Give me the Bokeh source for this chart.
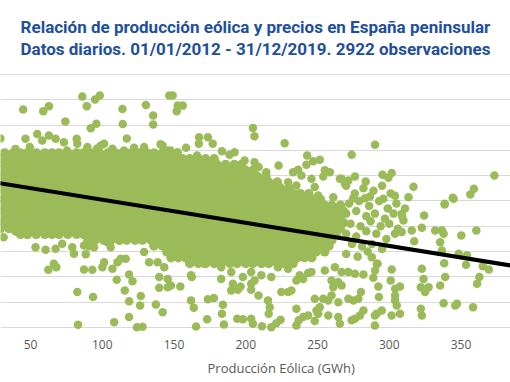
from bokeh.plotting import figure
from bokeh.models import Range1d, FixedTicker, Title
from bokeh.embed import file_html
from bokeh.resources import INLINE

title_1 = "Relación de producción eólica y precios en España peninsular"
title_2 = "Datos diarios. 01/01/2012 - 31/12/2019. 2922 observaciones"
x_title = "Producción Eólica (GWh)"
x_ticks = [50, 100, 150, 200, 250, 300, 350]
y_grid = [0, 10, 20, 30, 40, 50, 60, 70, 80, 90, 100]

# dense core of the cloud, one list of wind values (GWh) per price level (EUR/MWh)
row_69_0 = [32, 38, 43, 48, 54, 60, 65, 70, 76, 82, 87, 92, 98, 104, 109, 114, 120, 126, 131, 136, 142, 148]
row_66_7 = [29, 35, 40, 46, 51, 57, 62, 68, 73, 79, 84, 90, 95, 101, 106, 112, 117, 123, 128, 134, 139, 145, 150, 156, 161, 167, 172, 178]
row_64_4 = [32, 38, 43, 48, 54, 60, 65, 70, 76, 82, 87, 92, 98, 104, 109, 114, 120, 126, 131, 136, 142, 148, 153, 158, 164, 170, 175, 180, 186, 192, 197]
row_62_1 = [29, 35, 40, 46, 51, 57, 62, 68, 73, 79, 84, 90, 95, 101, 106, 112, 117, 123, 128, 134, 139, 145, 150, 156, 161, 167, 172, 178, 183, 189, 194, 200, 205]
row_59_8 = [32, 38, 43, 48, 54, 60, 65, 70, 76, 82, 87, 92, 98, 104, 109, 114, 120, 126, 131, 136, 142, 148, 153, 158, 164, 170, 175, 180, 186, 192, 197, 202, 208, 214]
row_57_5 = [29, 35, 40, 46, 51, 57, 62, 68, 73, 79, 84, 90, 95, 101, 106, 112, 117, 123, 128, 134, 139, 145, 150, 156, 161, 167, 172, 178, 183, 189, 194, 200, 205, 211, 216, 222]
row_55_2 = [32, 38, 43, 48, 54, 60, 65, 70, 76, 82, 87, 92, 98, 104, 109, 114, 120, 126, 131, 136, 142, 148, 153, 158, 164, 170, 175, 180, 186, 192, 197, 202, 208, 214, 219, 224, 230]
row_52_9 = [29, 35, 40, 46, 51, 57, 62, 68, 73, 79, 84, 90, 95, 101, 106, 112, 117, 123, 128, 134, 139, 145, 150, 156, 161, 167, 172, 178, 183, 189, 194, 200, 205, 211, 216, 222, 227, 233, 238, 244]
row_50_6 = [32, 38, 43, 48, 54, 60, 65, 70, 76, 82, 87, 92, 98, 104, 109, 114, 120, 126, 131, 136, 142, 148, 153, 158, 164, 170, 175, 180, 186, 192, 197, 202, 208, 214, 219, 224, 230, 236, 241, 246, 252]
row_48_3 = [29, 35, 40, 46, 51, 57, 62, 68, 73, 79, 84, 90, 95, 101, 106, 112, 117, 123, 128, 134, 139, 145, 150, 156, 161, 167, 172, 178, 183, 189, 194, 200, 205, 211, 216, 222, 227, 233, 238, 244, 249, 255, 260, 266]
row_46_0 = [32, 38, 43, 48, 54, 60, 65, 70, 76, 82, 87, 92, 98, 104, 109, 114, 120, 126, 131, 136, 142, 148, 153, 158, 164, 170, 175, 180, 186, 192, 197, 202, 208, 214, 219, 224, 230, 236, 241, 246, 252, 258, 263, 268]
row_43_7 = [29, 35, 40, 46, 51, 57, 62, 68, 73, 79, 84, 90, 95, 101, 106, 112, 117, 123, 128, 134, 139, 145, 150, 156, 161, 167, 172, 178, 183, 189, 194, 200, 205, 211, 216, 222, 227, 233, 238, 244, 249, 255, 260, 266]
row_41_4 = [32, 38, 43, 48, 54, 60, 65, 70, 76, 82, 87, 92, 98, 104, 109, 114, 120, 126, 131, 136, 142, 148, 153, 158, 164, 170, 175, 180, 186, 192, 197, 202, 208, 214, 219, 224, 230, 236, 241, 246, 252, 258, 263, 268]
row_39_1 = [29, 35, 40, 46, 51, 57, 62, 68, 73, 79, 84, 90, 95, 101, 106, 112, 117, 123, 128, 134, 139, 145, 150, 156, 161, 167, 172, 178, 183, 189, 194, 200, 205, 211, 216, 222, 227, 233, 238, 244, 249, 255, 260, 266]
row_36_8 = [43, 48, 54, 60, 65, 70, 76, 82, 87, 92, 98, 104, 109, 114, 120, 126, 131, 136, 142, 148, 153, 158, 164, 170, 175, 180, 186, 192, 197, 202, 208, 214, 219, 224, 230, 236, 241, 246, 252, 258, 263]
row_34_5 = [90, 95, 101, 106, 112, 117, 123, 128, 134, 139, 145, 150, 156, 161, 167, 172, 178, 183, 189, 194, 200, 205, 211, 216, 222, 227, 233, 238, 244, 249, 255, 260]
row_32_2 = [136, 142, 148, 153, 158, 164, 170, 175, 180, 186, 192, 197, 202, 208, 214, 219, 224, 230, 236, 241, 246, 252, 258]
row_29_9 = [145, 150, 156, 161, 167, 172, 178, 183, 189, 194, 200, 205, 211, 216, 222, 227, 233, 238, 244, 249, 255]
row_27_6 = [148, 153, 158, 164, 170, 175, 180, 186, 192, 197, 202, 208, 214, 219, 224, 230, 236, 241, 246]
row_25_3 = [161, 167, 172, 178, 183, 189, 194, 200, 205, 211, 216, 222, 227, 233]
core_prices = [69.0, 66.7, 64.4, 62.1, 59.8, 57.5, 55.2, 52.9, 50.6, 48.3, 46.0,
               43.7, 41.4, 39.1, 36.8, 34.5, 32.2, 29.9, 27.6, 25.3]

# upper fringe and high outliers
high_wind = [86.1, 89.2, 95.0, 98.3, 146.7, 44.9, 58.9, 62.8, 114.1, 130.4, 135.5, 135.5, 114.3, 74.3, 92.0, 95.9,
             29.0, 117.1, 149.1, 152.6, 156.1, 151.9, 205.0, 206.1, 227.1, 167.5, 173.6, 167.3, 177.0, 152.6,
             158.4, 166.1, 183.4, 188.7, 192.2, 199.2, 206.1, 209.0, 214.3, 222.9, 242.8, 247.0, 251.6, 233.0,
             236.5, 242.3, 238.8, 245.8, 255.1, 258.6, 254.0, 265.6, 222.5, 229.5, 235.3, 248.1, 250.5, 261.0,
             224.8, 54.7, 46.5, 62.8, 67.5, 58.2, 73.3, 82.2, 82.6, 99.0, 101.3, 107.1, 115.2, 122.2, 129.2,
             142.0, 39.5, 49.5, 89.6, 75.5, 88.3, 96.5, 105.8, 140.6, 145.3, 147.6, 153.1]
high_price = [91.3, 87.5, 90.1, 91.7, 91.7, 86.2, 85.5, 87.5, 86.4, 87.9, 83.8, 80.2, 80.4, 81.4, 78.8, 80.5,
              74.7, 74.7, 91.7, 87.7, 87.7, 85.5, 78.9, 75.6, 72.8, 75.2, 75.2, 72.6, 72.6, 69.3,
              71.0, 68.0, 69.7, 68.3, 69.3, 66.0, 65.3, 63.4, 61.4, 64.0, 68.0, 65.7, 66.3, 61.4,
              62.3, 64.3, 60.1, 58.8, 62.1, 61.4, 59.7, 58.8, 54.8, 57.4, 56.1, 55.5, 52.2, 51.5,
              52.2, 76.5, 74.6, 75.9, 74.6, 73.9, 73.2, 74.6, 72.6, 71.9, 72.6, 70.6, 70.0, 71.0, 71.3,
              71.9, 70.6, 71.3, 71.3, 70.0, 68.7, 70.7, 68.0, 72.4, 70.0, 70.0, 66.8]

# right-hand part of the cloud (high wind)
right_wind = [290.1, 273.8, 266.8, 269.1, 271.5, 276.1, 283.6, 295.3, 299.4, 301.7, 316.9, 304.0, 313.4, 286.6,
              283.1, 295.9, 274.9, 344.2, 359.0, 356.5, 373.3, 338.6, 344.9, 324.3, 322.7, 332.0, 336.7, 337.9,
              350.2, 360.7, 335.5, 336.7, 348.4, 354.2, 353.5, 365.2, 369.4, 362.8, 361.2, 338.3, 339.0, 335.5,
              322.7, 323.9, 322.0, 327.4, 325.0, 337.9, 347.2, 346.0, 358.4, 317.4, 301.7, 291.9, 290.1, 288.9,
              301.0, 304.1, 307.5, 292.4, 292.8, 304.1, 304.1, 305.2, 307.5, 301.7, 322.0, 322.7, 291.2, 294.8,
              290.0, 290.0, 276.1, 273.8, 279.6, 282.0, 271.5, 275.0, 278.5, 280.3, 266.8, 271.5, 276.1, 282.0,
              266.8, 338.6, 315.7, 308.7, 309.9, 308.7, 287.8, 291.3,
              270, 276, 282, 289, 295, 301, 272, 279, 286, 293, 299, 305, 311, 270, 277, 284, 290, 297, 303, 309,
              273, 280, 287, 294, 300, 306, 270, 277, 284, 291, 298, 304, 274, 281, 288, 295, 270, 278, 285]
right_price = [72.2, 68.3, 58.8, 56.8, 58.1, 59.7, 57.7, 60.4, 59.2, 61.1, 55.6, 52.1, 51.5, 51.8,
               51.1, 50.9, 51.1, 51.3, 54.8, 52.6, 60.1, 48.9, 50.9, 44.3, 39.4, 38.3, 38.3, 37.0,
               36.4, 38.3, 33.7, 30.4, 29.1, 28.5, 24.8, 24.2, 22.9, 19.9, 17.3, 25.4, 19.9, 16.6,
               23.2, 19.2, 15.9, 15.9, 14.0, 9.6, 9.4, 8.7, 8.0, 34.1, 22.9, 25.2, 22.5, 19.6,
               18.6, 15.3, 16.2, 16.2, 12.0, 12.6, 10.7, 8.7, 5.4, 4.7, 7.4, 4.7, 5.4, 6.7,
               4.7, 0.8, 3.4, 2.8, 4.7, 6.7, 11.3, 10.7, 11.3, 14.0, 21.9, 21.9, 21.2, 20.9,
               16.6, 48.6, 38.3, 37.7, 42.3, 44.9, 27.8, 25.2,
               56, 53, 55, 54, 56, 53, 49, 50, 48, 50, 47, 49, 47, 45, 46, 44, 45, 43, 45, 44,
               41, 40, 42, 40, 41, 39, 37, 36, 38, 37, 35, 37, 33, 32, 33, 31, 29, 28, 30]

# lower fringe and low outliers
low_wind = [83.1, 82.6, 93.6, 108.3, 118.7, 124.1, 128.1, 118.7, 126.9, 126.4, 115.7, 110.1, 118.7, 121.1,
            137.4, 142.1, 139.7, 139.7, 145.6, 62.4, 66.3, 68.0, 87.3, 93.1, 101.3, 100.1, 107.1, 110.6, 112.9,
            116.4, 88.5, 53.5, 60.5, 47.7, 31.3, 39.5, 67.5, 72.1, 80.3, 79.1, 87.3, 90.8, 94.3, 103.6, 105.9,
            111.8, 129.2, 132.7, 138.6, 143.2, 145.6,
            165.4, 173.1, 184.8, 194.1, 198.0, 203.8, 205.0, 211.3, 217.8, 221.3, 224.3, 235.3, 236.9, 240.0,
            243.5, 248.1, 250.5, 257.5, 264.5, 265.6, 161.9, 163.8, 173.6, 177.8, 184.1, 183.4, 194.5, 196.4,
            191.0, 189.9, 203.8, 208.9, 203.8, 215.5, 216.7, 216.0, 235.3, 248.1, 251.6, 249.3, 254.0, 259.8,
            257.5, 264.5, 147.9, 154.4, 162.4, 182.9, 203.8, 206.1, 224.8, 229.5, 231.8, 235.3, 240.0, 243.5,
            259.8, 261.0, 171.2, 182.9, 189.9, 198.0, 210.8, 217.8, 222.5, 229.5, 237.6, 245.8, 255.1, 262.1,
            264.5, 161.9]
low_price = [1.1, 14.0, 12.0, 2.1, 4.1, 0.1, 0.3, 10.4, 12.4, 8.7, 14.6, 18.9, 20.9, 18.3,
             9.1, 6.0, 19.9, 15.7, 15.9, 22.8, 25.2, 23.8, 22.9, 22.8, 25.8, 23.8, 23.2, 25.8, 27.2,
             27.2, 28.9, 31.7, 30.7, 36.6, 35.7, 37.9, 31.1, 33.1, 29.1, 31.7, 32.4, 32.1, 31.7, 33.7, 31.7,
             34.4, 29.8, 25.8, 25.8, 23.8, 19.2,
             0.4, 3.2, 1.2, 3.4, 3.2, 3.4, 1.5, 0.5, 0.1, 1.7, 3.0, 0.8, 2.8, 4.1,
             4.7, 2.5, 5.4, 4.7, 4.1, 1.5, 10.7, 7.8, 11.1, 11.6, 9.0, 5.4, 14.9, 16.2,
             17.3, 14.6, 14.9, 12.6, 17.3, 10.7, 8.0, 5.4, 7.4, 11.3, 8.0, 6.7, 11.3, 12.6,
             10.7, 10.0, 16.6, 16.2, 19.9, 19.2, 21.9, 18.6, 14.0, 14.0, 14.6, 18.6, 19.2, 21.5,
             18.6, 15.9, 25.2, 23.8, 21.9, 19.9, 20.6, 19.9, 23.8, 23.2, 20.6, 21.9, 22.5, 23.8,
             17.9, 20.6]

# linear trend line (read at its ends)
trend_wind = [0, 400]
trend_price = [59.6, 23.1]

core_rows = [row_69_0, row_66_7, row_64_4, row_62_1, row_59_8, row_57_5, row_55_2, row_52_9, row_50_6,
             row_48_3, row_46_0, row_43_7, row_41_4, row_39_1, row_36_8, row_34_5, row_32_2, row_29_9,
             row_27_6, row_25_3]
core_wind = [w for row in core_rows for w in row]
core_price = [pr for row, pr in zip(core_rows, core_prices) for w in row]

scat_wind = high_wind + right_wind + low_wind
scat_price = high_price + right_price + low_price

GREEN = "#9BBB59"
GRID = "#D9D9D9"
GREY = "#595959"
BLUE = "#1E4F9E"

p = figure(width=510, height=382, output_backend="svg", toolbar_location=None,
           x_range=Range1d(29.1, 384.5), y_range=Range1d(-2, 100.4),
           min_border_left=0, min_border_right=0, min_border_top=73, min_border_bottom=50)
p.outline_line_color = None
p.background_fill_color = "white"
p.border_fill_color = "white"

p.scatter(core_wind, core_price, size=9.5, fill_color=GREEN, line_color=None)
p.scatter(scat_wind, scat_price, size=8.5, fill_color=GREEN, line_color=None)
p.line(trend_wind, trend_price, line_color="black", line_width=4)

p.yaxis.visible = False
p.xgrid.visible = False
p.ygrid.ticker = FixedTicker(ticks=y_grid)
p.ygrid.grid_line_color = GRID
p.ygrid.grid_line_width = 1

ax = p.xaxis[0]
ax.ticker = FixedTicker(ticks=x_ticks)
ax.axis_line_color = None
ax.major_tick_line_color = None
ax.minor_tick_line_color = None
ax.major_tick_out = 0
ax.major_label_standoff = 7
ax.major_label_text_font = "Open Sans"
ax.major_label_text_font_size = "12px"
ax.major_label_text_color = GREY

p.add_layout(Title(text=x_title, align="left", offset=207, text_font="Open Sans",
                   text_font_size="13px", text_font_style="normal", text_color=GREY), "below")
p.add_layout(Title(text=title_1 + "\n" + title_2, align="center", standoff=29,
                   text_font="Roboto", text_font_style="bold", text_line_height=1.1,
                   text_font_size="17px", text_color=BLUE), "above")

open("out.html", "w").write(file_html(p, INLINE))
